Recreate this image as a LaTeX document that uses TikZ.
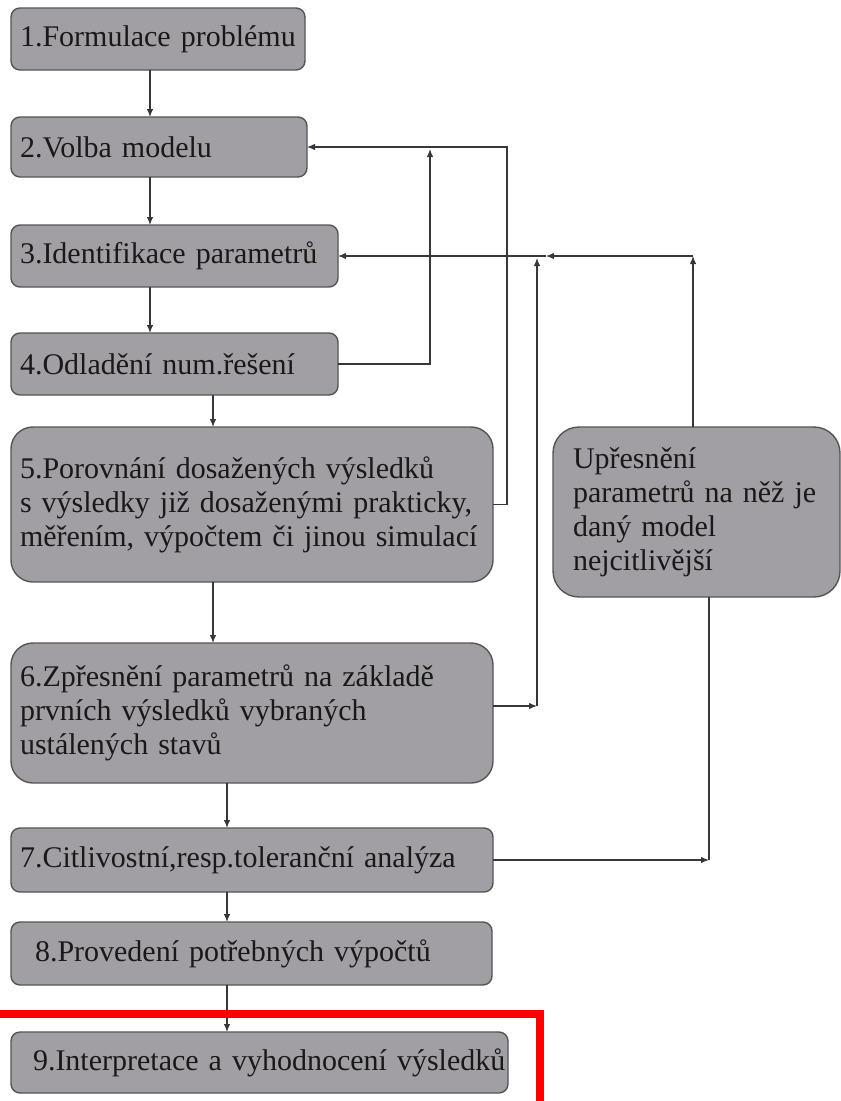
\documentclass[tikz,border=0pt]{standalone}
\usepackage{fontspec}
\setmainfont{Liberation Serif}
\usetikzlibrary{arrows.meta,positioning}
\definecolor{boxgray}{RGB}{161,159,164}
\definecolor{boxline}{RGB}{85,85,85}
\definecolor{linegray}{RGB}{55,55,55}
\definecolor{txtgray}{RGB}{25,25,25}

\begin{document}
\begin{tikzpicture}[
  x=1pt, y=-1pt,
  every node/.style={font=\fontsize{30}{34}\selectfont, text=txtgray},
  stage/.style={draw=boxline, line width=1.4pt, fill=boxgray, rounded corners=9pt, anchor=north west, align=left, inner xsep=9pt, inner ysep=4pt, outer sep=0pt},
  bigstage/.style={stage, rounded corners=22pt},
  arr/.style={draw=linegray, line width=1.2pt, -{Latex[length=8pt,width=6.5pt]}},
  link/.style={draw=linegray, line width=1.2pt},
]
  \useasboundingbox (0,0) rectangle (841,1101);

  % main chain of steps
  \node[stage, text width=276pt, minimum height=62pt] (s1) at (11,8) {1.Formulace problému};
  \node[stage, below=47pt of s1.south west, anchor=north west, text width=278pt, minimum height=60pt] (s2) {2.Volba modelu};
  \node[stage, below=48pt of s2.south west, anchor=north west, text width=309pt, minimum height=62pt] (s3) {3.Identifikace parametrů};
  \node[stage, below=46pt of s3.south west, anchor=north west, text width=309pt, minimum height=62pt] (s4) {4.Odladění num.řešení};
  \node[bigstage, below=32pt of s4.south west, anchor=north west, text width=464pt, minimum height=155pt] (s5) {5.Porovnání dosažených výsledků\\s výsledky již dosaženými prakticky,\\měřením, výpočtem či jinou simulací};
  \node[bigstage, below=61pt of s5.south west, anchor=north west, text width=464pt, minimum height=140pt] (s6) {6.Zpřesnění parametrů na základě\\prvních výsledků vybraných\\ustálených stavů};
  \node[stage, below=45pt of s6.south west, anchor=north west, text width=464pt, minimum height=64pt] (s7) {7.Citlivostní,resp.toleranční analýza};
  \node[stage, below=30pt of s7.south west, anchor=north west, inner xsep=24pt, text width=433pt, minimum height=63pt] (s8) {8.Provedení potřebných výpočtů};
  \node[stage, below=47pt of s8.south west, anchor=north west, inner xsep=22pt, text width=453pt, minimum height=61pt] (s9) {\mbox{9.Interpretace a vyhodnocení výsledků}};

  % side step
  \node[bigstage, rounded corners=26pt, right=60pt of s5.north east, anchor=north west, inner xsep=20pt, text width=247pt, minimum height=170pt] (su) {Upřesnění\\parametrů na něž je\\daný model\\nejcitlivější};

  \draw[arr] ([xshift=139pt]s1.south west) -- ([xshift=139pt]s2.north west);
  \draw[arr] ([xshift=139pt]s2.south west) -- ([xshift=139pt]s3.north west);
  \draw[arr] ([xshift=139pt]s3.south west) -- ([xshift=139pt]s4.north west);
  \draw[arr] ([xshift=202pt]s4.south west) -- ([xshift=202pt]s5.north west);
  \draw[arr] ([xshift=202pt]s5.south west) -- ([xshift=202pt]s6.north west);
  \draw[arr] ([xshift=216pt]s6.south west) -- ([xshift=216pt]s7.north west);
  \draw[arr] ([xshift=216pt]s7.south west) -- ([xshift=216pt]s8.north west);
  \draw[arr] ([xshift=216pt]s8.south west) -- ([xshift=216pt]s9.north west);

  % feedback lines
  \coordinate (k4) at (430,149);
  \coordinate (k5) at (507,147);
  \coordinate (k6) at (537,706);
  \coordinate (k6t) at (537,258);
  \coordinate (ku) at (693,256);
  \coordinate (kx) at (546,256);
  \coordinate (k7) at (709,860);

  \draw[arr] (s4.east) -| (k4);
  \draw[arr] (s5.east) -| (k5) -- (s2.east);
  \draw[arr] ([yshift=7pt]s6.east) -- (k6);
  \draw[arr] (k6) -- (k6t);
  \draw[arr] (su.north -| ku) -- (ku);
  \draw[arr] (ku) -- (kx);
  \draw[arr] (kx) -- (s3.east);
  \draw[arr] (s7.east) -- (k7);
  \draw[link] (su.south -| k7) -- (k7);

  % highlight of the last step
  \draw[red, line width=8pt] (-10,1014) rectangle (540,1106);
\end{tikzpicture}
\end{document}
